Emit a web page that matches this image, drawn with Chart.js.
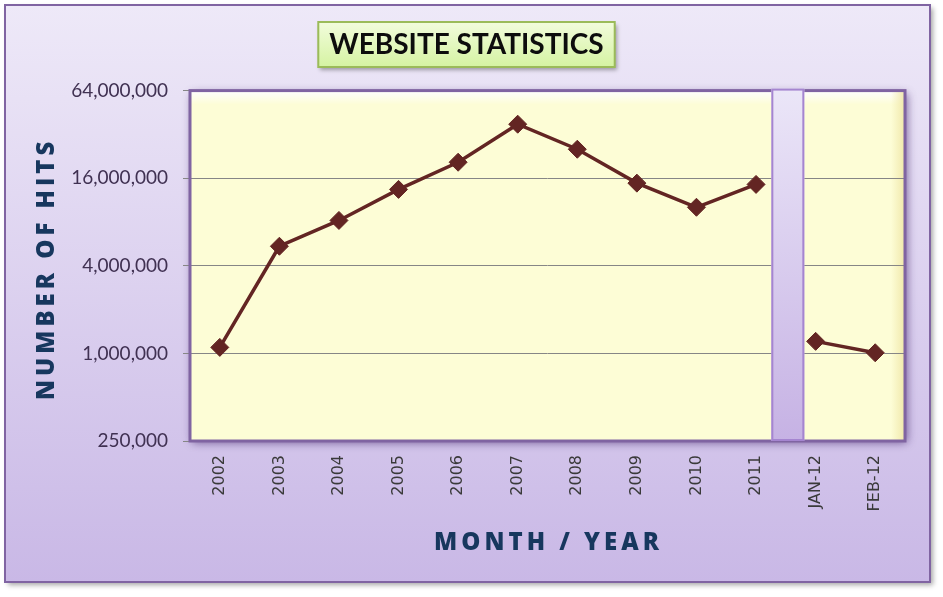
<!DOCTYPE html>
<html>
<head>
<meta charset="utf-8">
<script src="https://cdn.jsdelivr.net/npm/chart.js@4"></script>
<style>
  html, body { margin: 0; padding: 0; background: #ffffff; }
  #wrap { width: 943px; height: 597px; }
</style>
</head>
<body>
<div id="wrap"><canvas id="lineChart" width="943" height="597"></canvas></div>
<script>
// Website hits per year, then per month
const categories = ['2002', '2003', '2004', '2005', '2006', '2007', '2008', '2009', '2010', '2011', 'JAN-12', 'FEB-12'];
const hits = [1100000, 5450000, 8200000, 13400000, 20600000, 37600000, 25300000, 14800000, 10100000, 14500000, 1210000, 1010000];
const tickValues = [250000, 1000000, 4000000, 16000000, 64000000];
const lastYearIndex = 9; // break in the line + separator after this point

const lineColor = '#632523';

// background frame, title box, plot area
const decor = {
    id: 'decor',
    beforeDraw(chart) {
        const ctx = chart.ctx;
        const a = chart.chartArea;
        ctx.save();
        // outer frame
        ctx.shadowColor = 'rgba(0,0,0,0.35)';
        ctx.shadowBlur = 5;
        ctx.shadowOffsetX = 3;
        ctx.shadowOffsetY = 3;
        let g = ctx.createLinearGradient(0, 5, 0, 582);
        g.addColorStop(0, '#eee9f8');
        g.addColorStop(1, '#c9b8e6');
        ctx.fillStyle = g;
        ctx.fillRect(5, 5, 925, 577);
        ctx.shadowColor = 'transparent';
        ctx.lineWidth = 2;
        ctx.strokeStyle = '#8064a2';
        ctx.strokeRect(5, 5, 925, 577);

        // title box
        const t = chart.titleBlock;
        ctx.font = t.options.font.weight + ' ' + t.options.font.size + 'px ' + t.options.font.family;
        const tw = ctx.measureText(t.options.text).width;
        const cx = (t.left + t.right) / 2;
        const bx = cx - tw / 2 - 11, by = 22, bw = tw + 22, bh = 45;
        ctx.shadowColor = 'rgba(60,60,60,0.45)';
        ctx.shadowBlur = 4;
        ctx.shadowOffsetX = 2;
        ctx.shadowOffsetY = 3;
        g = ctx.createLinearGradient(0, by, 0, by + bh);
        g.addColorStop(0, '#f2fcdc');
        g.addColorStop(1, '#d5f3a2');
        ctx.fillStyle = g;
        ctx.fillRect(bx, by, bw, bh);
        ctx.shadowColor = 'transparent';
        ctx.strokeStyle = '#9bbb59';
        ctx.lineWidth = 2;
        ctx.strokeRect(bx, by, bw, bh);

        // plot area
        ctx.shadowColor = 'rgba(70,40,110,0.7)';
        ctx.shadowBlur = 9;
        ctx.shadowOffsetX = 2;
        ctx.shadowOffsetY = 2;
        ctx.fillStyle = '#fdfdd6';
        ctx.fillRect(a.left, a.top, a.width, a.height);
        ctx.shadowColor = 'transparent';
        g = ctx.createLinearGradient(0, a.top, 0, a.top + 14);
        g.addColorStop(0, 'rgba(255,255,255,1)');
        g.addColorStop(1, 'rgba(255,255,255,0)');
        ctx.fillStyle = g;
        ctx.fillRect(a.left, a.top, a.width, 14);
        g = ctx.createLinearGradient(a.right - 14, 0, a.right, 0);
        g.addColorStop(0, 'rgba(240,232,170,0)');
        g.addColorStop(1, 'rgba(240,232,170,1)');
        ctx.fillStyle = g;
        ctx.fillRect(a.right - 14, a.top, 14, a.height);
        ctx.restore();
    },
    beforeDatasetsDraw(chart) {
        const ctx = chart.ctx;
        const a = chart.chartArea;
        const x = chart.scales.x;
        ctx.save();
        // plot border
        ctx.lineWidth = 3;
        ctx.strokeStyle = '#8064a2';
        ctx.strokeRect(a.left, a.top, a.width, a.height);
        // separator between years and months
        const sx = (x.getPixelForValue(lastYearIndex) + x.getPixelForValue(lastYearIndex + 1)) / 2 + 2;
        const sw = 33;
        const g = ctx.createLinearGradient(0, a.top - 2, 0, a.bottom);
        g.addColorStop(0, '#ebe6f8');
        g.addColorStop(1, '#c6b2e4');
        ctx.fillStyle = g;
        ctx.fillRect(sx - sw / 2, a.top - 2, sw, a.height + 2);
        ctx.strokeStyle = '#a585d0';
        ctx.lineWidth = 2;
        ctx.strokeRect(sx - sw / 2 + 1, a.top - 1, sw - 2, a.height);
        ctx.restore();
    },
    afterDraw(chart) {
        const ctx = chart.ctx;
        const a = chart.chartArea;
        ctx.save();
        ctx.fillStyle = '#17375e';
        ctx.font = '800 24px "Open Sans"';
        ctx.letterSpacing = '4px';
        ctx.textAlign = 'center';
        ctx.textBaseline = 'middle';
        ctx.fillText('MONTH / YEAR', (a.left + a.right) / 2 + 1, 543);
        ctx.translate(47, (a.top + a.bottom) / 2 + 3);
        ctx.rotate(-Math.PI / 2);
        ctx.fillText('NUMBER OF HITS', 0, 0);
        ctx.restore();
    }
};

const ctx = document.getElementById('lineChart');
new Chart(ctx, {
    type: 'line',
    data: {
        labels: categories,
        datasets: [{
            label: 'Number of hits',
            data: hits,
            borderColor: lineColor,
            borderWidth: 3.5,
            pointStyle: 'rectRot',
            pointRadius: 9,
            pointBackgroundColor: lineColor,
            pointBorderColor: lineColor,
            pointBorderWidth: 1,
            tension: 0,
            segment: {
                borderColor: c => c.p0DataIndex === lastYearIndex ? 'transparent' : lineColor
            }
        }]
    },
    options: {
        responsive: false,
        animation: false,
        events: [],
        layout: {
            padding: { left: 28, right: 38, top: 0, bottom: 0 }
        },
        plugins: {
            legend: { display: false },
            tooltip: { enabled: false },
            title: {
                display: true,
                text: 'WEBSITE STATISTICS',
                color: '#0d0d0d',
                font: { family: 'Lato', size: 28, weight: 'bold', lineHeight: 1.2 },
                padding: { top: 28, bottom: 29 }
            }
        },
        scales: {
            x: {
                offset: true,
                grid: { display: false, drawTicks: false, offset: true },
                border: { display: false },
                ticks: {
                    minRotation: 90,
                    maxRotation: 90,
                    padding: 14,
                    color: '#3a3a3a',
                    font: { family: "'DejaVu Sans'", size: 16 }
                },
                afterFit: s => { s.height = 156; }
            },
            y: {
                type: 'logarithmic',
                min: 250000,
                max: 64000000,
                border: { display: false },
                grid: {
                    color: '#868686',
                    lineWidth: 1,
                    tickLength: 7,
                    tickColor: '#868686'
                },
                ticks: {
                    padding: 15,
                    color: '#403152',
                    font: { family: 'Lato', size: 19 },
                    callback: v => Number(v).toLocaleString('en-US')
                },
                afterBuildTicks: s => { s.ticks = tickValues.map(v => ({ value: v })); },
                afterFit: s => { s.width = 162; }
            }
        }
    },
    plugins: [decor]
});
</script>
</body>
</html>
